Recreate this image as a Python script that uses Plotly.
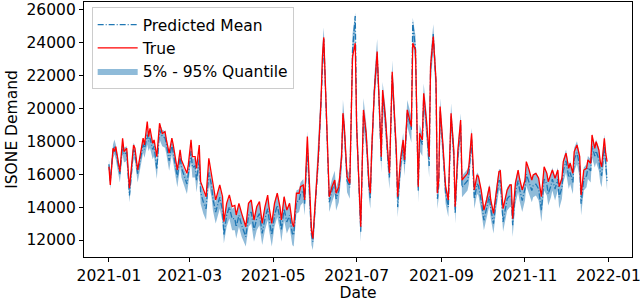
import pandas as pd
import plotly.graph_objects as go

# day offsets from 2021-01-01 (at the visible vertices)
day_offsets = [0,1,3,4,5,8,10,11,13,15,18,19,21,23,25,26,28,29,30,32,33,35,37,39,41,42,44,46,47,50,
52,53,55,57,58,60,61,63,64,66,67,69,71,73,75,76,78,80,81,83,84,86,88,90,92,93,95,97,100,102,
104,106,108,110,112,114,116,117,119,121,123,125,126,128,130,132,134,135,137,139,140,142,143,145,146,148,149,150,151,153,
155,156,157,159,161,163,165,166,168,170,171,172,174,176,178,180,181,184,186,188,190,191,192,194,196,198,199,200,202,204,
205,207,209,210,211,213,215,216,218,220,221,222,224,226,227,229,230,232,234,235,237,239,240,241,242,244,246,248,249,250,
252,253,255,257,258,260,262,263,265,267,269,270,272,274,276,278,279,281,283,285,286,288,291,293,294,295,297,299,300,302,
304,305,307,309,310,312,314,316,318,320,321,323,324,326,328,329,331,332,334,336,337,339,340,342,344,345,347,349,350,352,
353,355,356,358,359,360,362,363,364]

true_demand = [16450,15350,17570,17370,17670,16150,18180,17370,17570,15140,17770,17570,16250,17270,18180,17770,19190,18270,18780,17870,18080,17060,19090,18470,18580,18080,17270,18180,17770,16250,
17470,16860,16450,16050,16560,18080,17060,17060,16350,17770,15540,15040,14630,16960,15950,15240,14430,15040,15340,14630,13110,14230,14740,14030,14100,13520,14230,13620,12810,14230,
14430,13215,14020,14330,13010,14020,14730,14020,13010,14230,14840,14020,13215,14630,13820,14230,13010,12810,14840,14840,15240,15340,14430,18280,16050,12600,12100,13420,14840,17060,
20500,23140,24300,19290,14630,15240,15645,14840,15240,17060,19700,18890,15845,15440,23140,23950,18890,12810,19900,18480,15500,14840,17470,21110,23440,19290,17060,21110,19490,17060,
16050,22220,18890,17470,14630,16860,18075,16860,19900,19290,18890,23950,23540,15240,18480,18075,20910,19290,17060,22530,24350,21720,14840,15645,20100,17870,15240,14430,17060,19700,
17470,14020,17470,19290,15645,15850,16050,16450,18480,15040,15950,15850,15040,13820,14430,15240,14430,13620,15040,16150,16200,13900,15040,15340,15340,13300,15440,16250,15750,15040,
15640,16760,16250,15640,15950,16050,15750,14630,16450,16050,15540,15950,16250,15750,16250,15240,15750,16760,17270,16350,16660,16050,17370,17770,17060,14730,16250,16350,16860,16660,
18380,17570,17970,17470,16760,16450,18180,17270,16760]

predicted_mean = [16600,15600,17400,17700,17400,16000,17800,17200,17300,14700,17500,17300,16000,17000,17800,17500,18400,18000,18200,17500,17700,16300,18700,18300,18200,17800,16800,17800,17300,15800,
17100,16400,15900,15400,16000,17400,16400,16500,15600,16900,14900,14300,13900,16100,15300,14500,13700,14300,14600,13800,12300,13500,14000,13300,13300,12800,13500,12900,12200,13500,
13700,12600,13300,13600,12400,13300,13900,13300,12300,13500,14100,13300,12600,13900,13100,13500,12400,12300,14300,14400,14800,15000,14200,17600,15500,12300,11900,13000,14500,16800,
20400,23000,24200,19300,14300,15000,15500,14500,15000,16900,19600,18700,15600,15200,23500,25600,19000,12500,19700,18300,15200,14500,17300,21200,23300,19100,16800,20800,19300,16700,
15800,22000,18600,17200,14000,16500,17800,16600,19700,19100,18700,25200,23600,15000,18200,17800,20700,19000,16500,22300,24500,21500,14500,15300,19800,17600,14800,14000,16800,19500,
17200,13600,17100,19000,15200,15400,15600,16000,18100,14500,15400,15300,14400,13200,13900,14700,13900,13000,14500,15600,15600,13100,14500,14700,14700,12900,14900,15600,15100,14400,
15100,16000,15500,15000,15300,15400,15100,13800,15700,15400,14800,15300,15700,15100,15700,14600,15200,16200,16800,15800,16100,15500,16900,17300,16500,14200,15700,15900,16400,16200,
17700,17100,17400,16900,16200,15900,17700,16800,15600]

quantile_05 = [16200,15100,16900,17200,16900,15500,17200,16700,16800,14300,17000,16800,15500,16500,17300,17000,17800,17400,17600,16900,17100,15700,18100,17700,17600,17200,16200,17200,16700,15200,
16500,15800,15300,14800,15400,16800,15800,15800,14900,16200,14200,13600,13200,15400,14600,13800,13000,13600,13900,13100,11800,12800,13300,12600,12600,12100,12800,12200,11600,12800,
13000,11900,12600,12900,11700,12600,13200,12600,11600,12800,13400,12600,11900,13200,12400,12800,11700,11600,13600,13700,14100,14300,13500,16800,14700,11700,11400,12400,13800,16000,
19500,22000,23200,18400,13700,14300,14800,13800,14300,16100,18800,17900,14900,14500,22500,24400,18000,11900,18800,17500,14500,13900,16500,20300,22400,18300,16100,20000,18500,16000,
15100,21100,17800,16500,13400,15800,17100,15900,18900,18300,17900,24000,22600,14300,17400,17100,19900,18200,15800,21400,23500,20600,13900,14600,19000,16900,14200,13400,16100,18700,
16500,13000,16400,18300,14600,14800,15000,15400,17400,13900,14800,14700,13800,12600,13300,14100,13300,12400,13900,15000,15000,12500,13800,14000,14000,12200,14200,14900,14400,13700,
14400,15300,14800,14300,14600,14700,14400,13100,15000,14700,14100,14600,15000,14400,15000,13900,14500,15500,16100,15100,15400,14800,16200,16600,15800,13500,15000,15200,15700,15500,
17000,16400,16700,16200,15500,15200,17000,16100,15000]

quantile_95 = [16900,16000,17800,18100,17800,16400,18200,17600,17700,15200,17900,17700,16400,17400,18200,17900,18900,18400,18600,17900,18100,16800,19100,18700,18600,18200,17200,18200,17700,16300,
17500,16800,16300,15900,16400,17900,16900,17000,16100,17400,15400,14900,14500,16700,15800,15100,14300,14900,15200,14400,13000,14200,14600,13900,14000,13500,14200,13600,12900,14200,
14400,13300,14000,14300,13100,14000,14700,14000,13000,14300,14900,14000,13300,14700,13800,14300,13100,13000,15000,15100,15500,15700,14900,18600,16300,13000,12500,13700,15200,17600,
21300,23900,24900,20200,15000,15700,16200,15200,15700,17800,20500,19500,16300,16000,24500,25800,20000,13200,20600,19100,15900,15200,18100,22000,24200,19900,17500,21600,20100,17400,
16500,22900,19400,17900,14700,17200,18500,17300,20500,19900,19500,25500,24400,15700,19000,18500,21500,19800,17200,23200,25100,22300,15200,16000,20600,18300,15500,14700,17500,20300,
17900,14300,17800,19700,15900,16100,16300,16700,18800,15200,16100,16000,15100,13900,14600,15400,14600,13700,15200,16300,16300,13800,15200,15400,15400,13600,15600,16300,15800,15100,
15800,16700,16200,15700,16000,16100,15800,14500,16400,16100,15500,16000,16400,15800,16400,15300,15900,16900,17500,16500,16800,16200,17600,18000,17200,14900,16400,16600,17100,16900,
18400,17800,18100,17600,16900,16600,18400,17500,16300]

y_ticks = [12000, 14000, 16000, 18000, 20000, 22000, 24000, 26000]
y_tick_labels = ["12000", "14000", "16000", "18000", "20000", "22000", "24000", "26000"]
x_ticks = ["2021-01-01", "2021-03-01", "2021-05-01", "2021-07-01", "2021-09-01", "2021-11-01", "2022-01-01"]
x_tick_labels = ["2021-01", "2021-03", "2021-05", "2021-07", "2021-09", "2021-11", "2022-01"]

dates = pd.Timestamp("2021-01-01") + pd.to_timedelta(day_offsets, unit="D")

BLUE = "#1f77b4"
FONT = "DejaVu Sans"
FS = 15.5

fig = go.Figure()
fig.add_trace(go.Scatter(x=dates, y=quantile_05, mode="lines", line=dict(width=0, color=BLUE),
                         showlegend=False, hoverinfo="skip"))
fig.add_trace(go.Scatter(x=dates, y=quantile_95, mode="lines", line=dict(width=0, color=BLUE),
                         fill="tonexty", fillcolor="rgba(31,119,180,0.5)",
                         name="5% - 95% Quantile", legendrank=3))
fig.add_trace(go.Scatter(x=dates, y=predicted_mean, mode="lines",
                         line=dict(color=BLUE, width=1.3, dash="6px,2px,1px,2px"),
                         name="Predicted Mean", legendrank=1))
fig.add_trace(go.Scatter(x=dates, y=true_demand, mode="lines",
                         line=dict(color="red", width=1.3),
                         name="True", legendrank=2))

fig.update_layout(
    width=640, height=302,
    margin=dict(l=84, r=8, t=2, b=45),
    paper_bgcolor="white", plot_bgcolor="white",
    font=dict(family=FONT, size=FS, color="black"),
    showlegend=True,
    legend=dict(x=0.014, y=0.98, xanchor="left", yanchor="top", traceorder="normal",
                bgcolor="rgba(255,255,255,0.8)", bordercolor="#cccccc", borderwidth=1,
                font=dict(family=FONT, size=FS), tracegroupgap=0, itemwidth=40),
)
fig.update_xaxes(
    type="date", range=["2020-12-13 19:00", "2022-01-18 05:00"],
    tickvals=x_ticks, ticktext=x_tick_labels, automargin=False, ticklabeloverflow="allow",
    ticks="outside", ticklen=4, tickwidth=1, tickcolor="black",
    showline=True, linecolor="black", linewidth=1.2, mirror=True,
    showgrid=False, zeroline=False,
    title=dict(text="Date", font=dict(family=FONT, size=FS), standoff=3),
    tickfont=dict(family=FONT, size=FS),
)
fig.update_yaxes(
    range=[10970, 26450], tickvals=y_ticks, ticktext=y_tick_labels, automargin=False,
    ticklabeloverflow="allow",
    ticks="outside", ticklen=4, tickwidth=1, tickcolor="black",
    showline=True, linecolor="black", linewidth=1.2, mirror=True,
    showgrid=False, zeroline=False,
    title=dict(text="ISONE Demand", font=dict(family=FONT, size=FS), standoff=5),
    tickfont=dict(family=FONT, size=FS),
)

fig.write_html("out.html", config={"displayModeBar": False},
               post_script="document.body.style.margin='0px';document.body.style.overflow='hidden';")
